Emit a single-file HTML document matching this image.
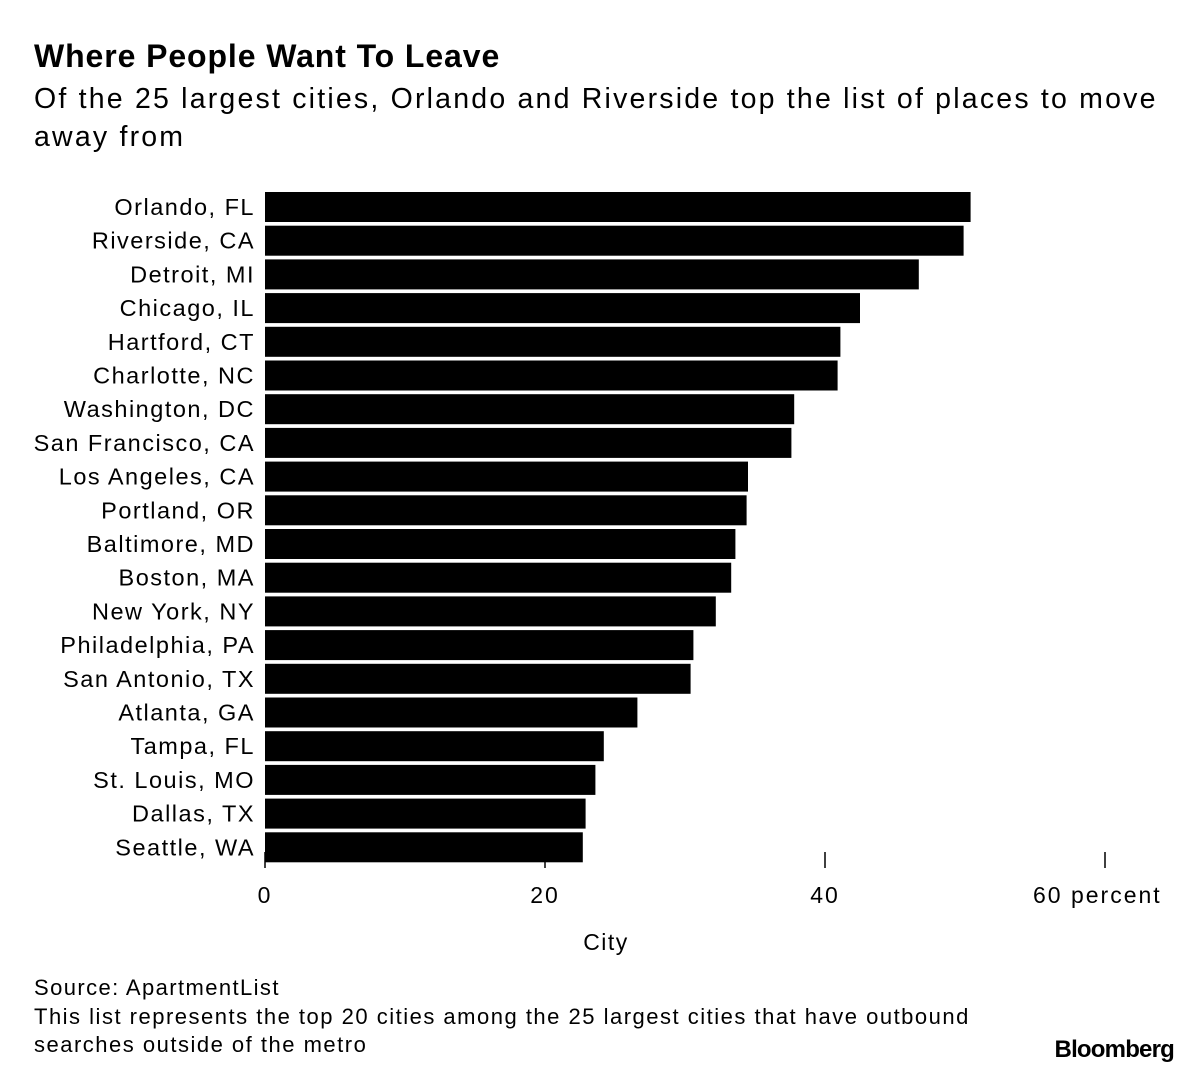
<!DOCTYPE html>
<html><head><meta charset="utf-8"><style>
body{margin:0;background:#fff;font-family:"Liberation Sans",Arial,sans-serif;color:#000}
#wrap{position:relative;width:1200px;height:1072px;overflow:hidden}
.t{position:absolute;left:34px;white-space:nowrap}
</style></head><body>
<div id="wrap">
<div class="t" style="top:38px;font-size:32px;font-weight:bold;letter-spacing:0.9px">Where People Want To Leave</div>
<div class="t" style="top:80px;font-size:28.5px;letter-spacing:2.2px;line-height:38px;white-space:normal;width:1160px">Of the 25 largest cities, Orlando and Riverside top the list of places to move away from</div>
<svg id="chart" width="1200" height="1072" style="position:absolute;left:0;top:0"></svg>
<div class="t" style="top:975px;font-size:22px;letter-spacing:1.4px">Source: ApartmentList</div>
<div class="t" style="top:1003px;font-size:22px;letter-spacing:1.5px;line-height:28px">This list represents the top 20 cities among the 25 largest cities that have outbound<br>searches outside of the metro</div>
<div style="position:absolute;right:26px;top:1036px;font-size:24px;font-weight:bold;letter-spacing:-0.8px">Bloomberg</div>
</div>
<script>
const categories=["Orlando, FL","Riverside, CA","Detroit, MI","Chicago, IL","Hartford, CT","Charlotte, NC","Washington, DC","San Francisco, CA","Los Angeles, CA","Portland, OR","Baltimore, MD","Boston, MA","New York, NY","Philadelphia, PA","San Antonio, TX","Atlanta, GA","Tampa, FL","St. Louis, MO","Dallas, TX","Seattle, WA"];
const values=[50.4,49.9,46.7,42.5,41.1,40.9,37.8,37.6,34.5,34.4,33.6,33.3,32.2,30.6,30.4,26.6,24.2,23.6,22.9,22.7];
const ticks=[0,20,40,60];
const tickLabels=["0","20","40","60 percent"];
const svg=document.getElementById('chart');
const NS='http://www.w3.org/2000/svg';
const x=v=>265+v*14;
const rowTop=i=>191+i*33.7;
function mk(t,a){const e=document.createElementNS(NS,t);for(const k in a)e.setAttribute(k,a[k]);svg.appendChild(e);return e;}
ticks.forEach((t,i)=>{
  const l=mk('line',{x1:x(t),x2:x(t),y1:852,y2:868,stroke:'#000','stroke-width':1.5});
  
  
  const tx=mk('text',{x:x(t),y:903,'font-size':23,'letter-spacing':2,'text-anchor':i==3?'start':'middle'});
  if(i==3)tx.setAttribute('x',x(t)-72);
  tx.textContent=tickLabels[i];
  
  
});
categories.forEach((c,i)=>{
  const r=mk('rect',{x:x(0),y:rowTop(i)+1,width:x(values[i])-x(0),height:30,fill:'#000'});
  
  
  const tx=mk('text',{x:255,y:rowTop(i)+24,'font-size':23.5,'letter-spacing':1.5,'text-anchor':'end'});
  tx.textContent=c;
  
  
});
const at=mk('text',{x:606,y:950,'font-size':23,'letter-spacing':1.5,'text-anchor':'middle'});
at.textContent='City';


</script>
</body></html>
